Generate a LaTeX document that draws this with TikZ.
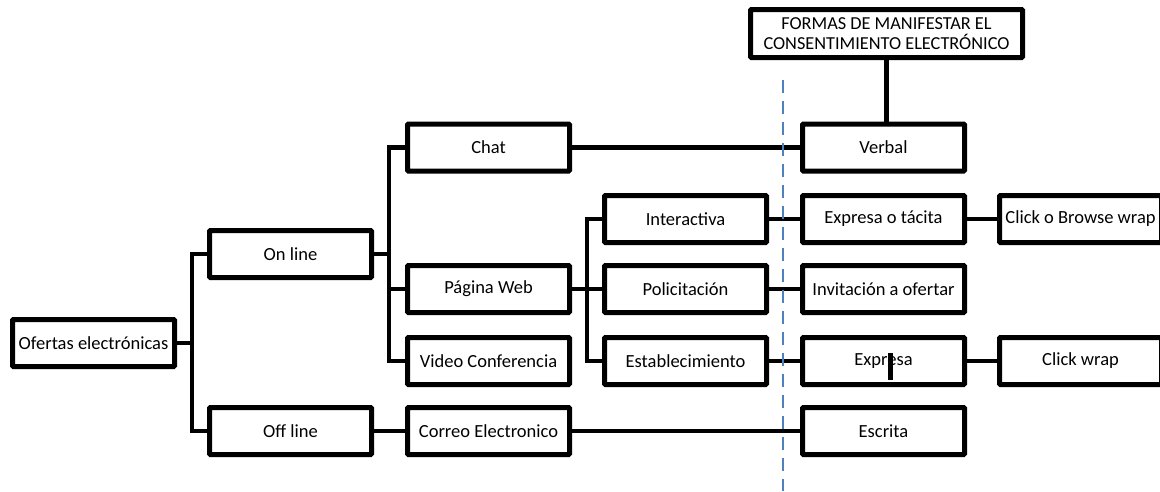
\documentclass[tikz,border=0pt]{standalone}
\usepackage{fontspec}
\setmainfont{Carlito}
\begin{document}
\begin{tikzpicture}[x=1pt,y=-1pt,
  box/.style={draw=black,line width=5pt,rounded corners=1pt,minimum width=162pt,minimum height=47pt,inner sep=0pt,font=\fontsize{18.5}{21}\selectfont,align=center},
  conn/.style={draw=black,line width=4.2pt},
  guide/.style={draw={rgb,255:red,79;green,129;blue,189},line width=1.6pt,dash pattern=on 13pt off 8pt}]
\useasboundingbox (0,0) rectangle (1160,491);
% nodes
\node[box] (of) at (93.5,343) {Ofertas electrónicas};
\node[box] (on) at (290.5,254) {On line};
\node[box] (off) at (290.5,431) {Off line};
\node[box] (chat) at (488.5,147.5) {Chat};
\node[box] (web) at (488.5,289) {Página Web};
\node[box] (video) at (488.5,361) {Video Conferencia};
\node[box] (correo) at (488.5,431) {Correo Electronico};
\node[box] (inter) at (685.5,219) {Interactiva};
\node[box] (poli) at (685.5,289) {Policitación};
\node[box] (estab) at (685.5,361) {Establecimiento};
\node[box] (formas) at (886.5,33.5) [minimum width=272pt,minimum height=48pt,font=\fontsize{18.3}{20}\selectfont] {FORMAS DE MANIFESTAR EL\\CONSENTIMIENTO ELECTRÓNICO};
\node[box] (verbal) at (883.5,147.5) {Verbal};
\node[box] (exto) at (883.5,219) {Expresa o tácita};
\node[box] (invit) at (883.5,289) {Invitación a ofertar};
\node[box] (expresa) at (883.5,361) {Expresa};
\node[box] (escrita) at (883.5,431) {Escrita};
\node[box] (browse) at (1080.5,219) {Click o Browse wrap};
\node[box] (clickw) at (1080.5,361) {Click wrap};
% junction coordinates
\coordinate (t1) at (192,343);
\coordinate (t2) at (389,254);
\coordinate (t3) at (587,289);
% connectors
\draw[conn] (of.east) -- (t1);
\draw[conn] (on.west) -| (t1) |- (off.west);
\draw[conn] (on.east) -- (t2);
\draw[conn] (chat.west) -| (t2) |- (video.west);
\draw[conn] (t2) |- (web.west);
\draw[conn] (web.east) -- (t3);
\draw[conn] (inter.west) -| (t3) |- (estab.west);
\draw[conn] (t3) -- (poli.west);
\draw[conn] (off.east) -- (correo.west);
\draw[conn] (correo.east) -- (escrita.west);
\draw[conn] (chat.east) -- (verbal.west);
\draw[conn] (inter.east) -- (exto.west);
\draw[conn] (poli.east) -- (invit.west);
\draw[conn] (estab.east) -- (expresa.west);
\draw[conn] (exto.east) -- (browse.west);
\draw[conn] (expresa.east) -- (clickw.west);
\draw[conn] (formas.south) -- (formas.south |- verbal.north);
% dashed guide
\coordinate (g1) at (783,80);
\coordinate (g2) at (783,491);
\draw[guide] (g1) -- (g2);
% cursor bar
\coordinate (c1) at (890,353);
\coordinate (c2) at (890,380);
\draw[black,line width=5pt] (c1) -- (c2);
\end{tikzpicture}
\end{document}
